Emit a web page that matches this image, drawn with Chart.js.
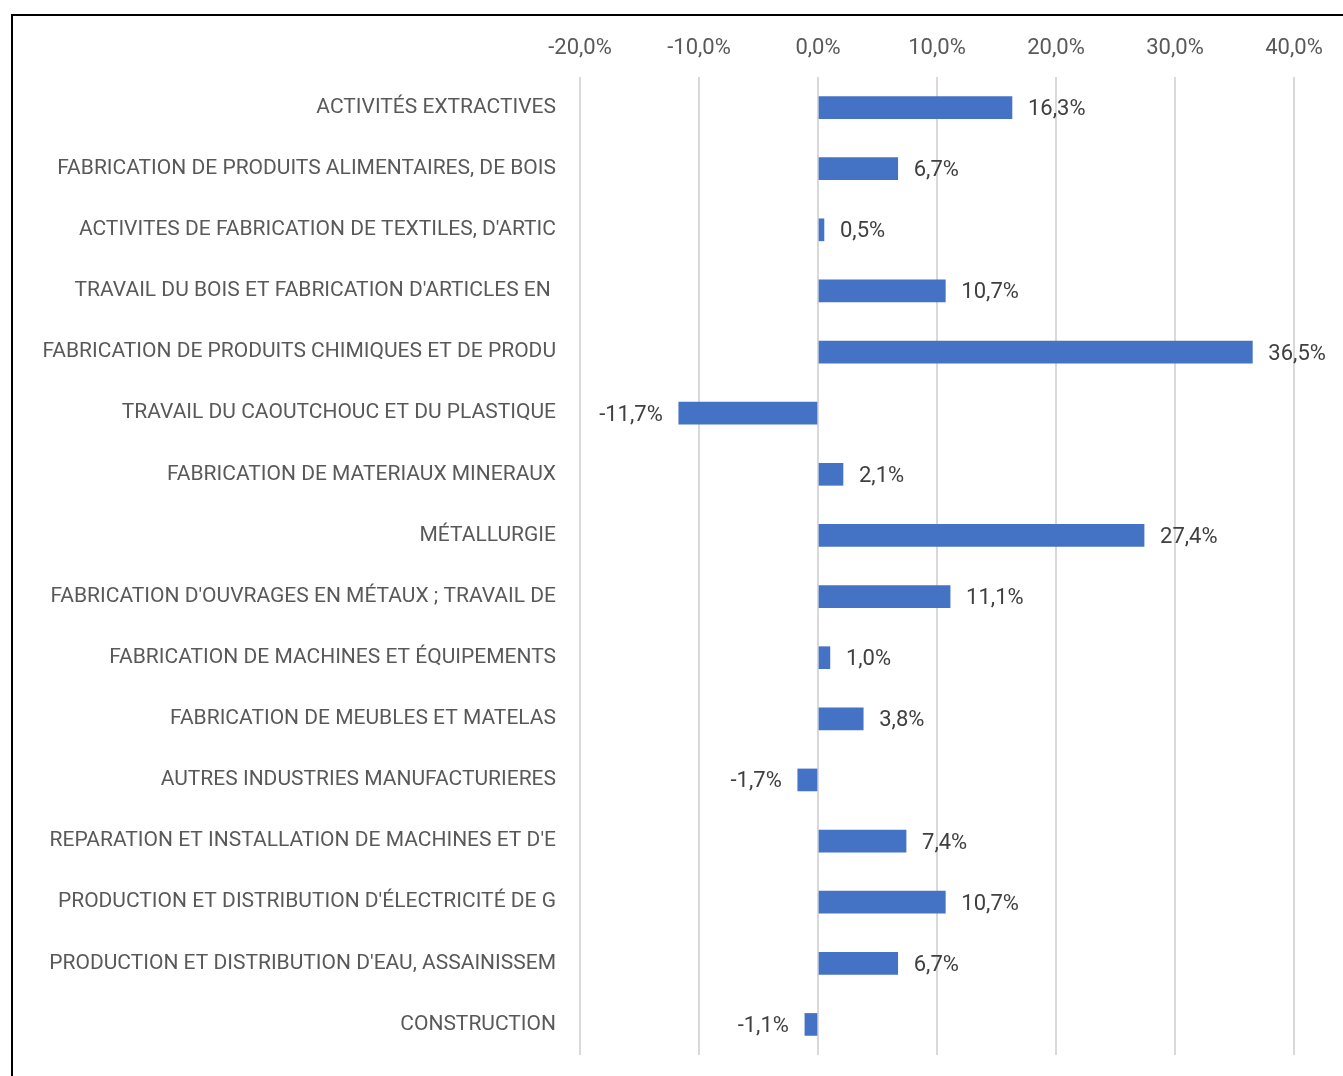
<!DOCTYPE html>
<html>
<head>
<meta charset="utf-8">
<script src="https://cdn.jsdelivr.net/npm/chart.js@4.4.1/dist/chart.umd.min.js"></script>
<style>
  html, body { margin: 0; padding: 0; background: #fff; }
  #wrap { position: relative; width: 1343px; height: 1076px; overflow: hidden; }
  #frame { position: absolute; left: 11px; top: 14px; width: 1400px; height: 1200px;
           border-top: 2px solid #000; border-left: 2px solid #000; }
  canvas { position: absolute; left: 0; top: 0; }
</style>
</head>
<body>
<div id="wrap">
  <div id="frame"></div>
  <canvas id="chart" width="1343" height="1076"></canvas>
</div>
<script>
const categories = [
  "ACTIVITÉS EXTRACTIVES",
  "FABRICATION DE PRODUITS ALIMENTAIRES, DE BOIS",
  "ACTIVITES DE FABRICATION DE TEXTILES, D'ARTIC",
  "TRAVAIL DU BOIS ET FABRICATION D'ARTICLES EN ",
  "FABRICATION DE PRODUITS CHIMIQUES ET DE PRODU",
  "TRAVAIL DU CAOUTCHOUC ET DU PLASTIQUE",
  "FABRICATION DE MATERIAUX MINERAUX",
  "MÉTALLURGIE",
  "FABRICATION D'OUVRAGES EN MÉTAUX ; TRAVAIL DE",
  "FABRICATION DE MACHINES ET ÉQUIPEMENTS",
  "FABRICATION DE MEUBLES ET MATELAS",
  "AUTRES INDUSTRIES MANUFACTURIERES",
  "REPARATION ET INSTALLATION DE MACHINES ET D'E",
  "PRODUCTION ET DISTRIBUTION D'ÉLECTRICITÉ DE G",
  "PRODUCTION ET DISTRIBUTION D'EAU, ASSAINISSEM",
  "CONSTRUCTION"
];
const values = [16.3, 6.7, 0.5, 10.7, 36.5, -11.7, 2.1, 27.4, 11.1, 1.0, 3.8, -1.7, 7.4, 10.7, 6.7, -1.1];
const xTicks = [-20, -10, 0, 10, 20, 30, 40];

const fontFamily = "Roboto, 'Noto Sans', sans-serif";

function fmt(v, d) {
  return v.toFixed(d).replace(".", ",") + "%";
}

// étiquettes de valeur à côté des barres
const valueLabels = {
  id: "valueLabels",
  afterDatasetsDraw(chart) {
    const ctx = chart.ctx;
    const meta = chart.getDatasetMeta(0);
    ctx.save();
    ctx.font = "22px " + fontFamily;
    ctx.fillStyle = "#404040";
    ctx.textBaseline = "middle";
    meta.data.forEach((bar, i) => {
      const v = values[i];
      if (v >= 0) {
        ctx.textAlign = "left";
        ctx.fillText(fmt(v, 1), bar.x + 16, bar.y + 2);
      } else {
        ctx.textAlign = "right";
        ctx.fillText(fmt(v, 1), bar.x - 16, bar.y + 2);
      }
    });
    ctx.restore();
  }
};

new Chart(document.getElementById("chart"), {
  type: "bar",
  data: {
    labels: categories,
    datasets: [{
      data: values,
      backgroundColor: "#4472C4",
      borderWidth: 0,
      barThickness: 22
    }]
  },
  options: {
    indexAxis: "y",
    responsive: false,
    animation: false,
    layout: { padding: { top: 20, bottom: 21, right: 49, left: 0 } },
    plugins: { legend: { display: false }, tooltip: { enabled: false } },
    scales: {
      x: {
        position: "top",
        min: -20,
        max: 40,
        afterBuildTicks: (scale) => { scale.ticks = xTicks.map(v => ({ value: v })); },
        afterFit: (scale) => { scale.height = 57; },
        grid: { color: "#d9d9d9", lineWidth: 2, drawTicks: false },
        border: { display: false },
        ticks: {
          color: "#595959",
          font: { family: fontFamily, size: 22 },
          padding: 15,
          maxRotation: 0,
          callback: (v) => fmt(v, 1)
        }
      },
      y: {
        afterFit: (scale) => {
          scale.width = 580;
          scale.paddingTop = 0;
          scale.paddingBottom = 0;
        },
        grid: { display: false },
        border: { display: false },
        ticks: {
          color: "#595959",
          font: { family: fontFamily, size: 21 },
          padding: 16
        }
      }
    }
  },
  plugins: [valueLabels]
});
</script>
</body>
</html>
